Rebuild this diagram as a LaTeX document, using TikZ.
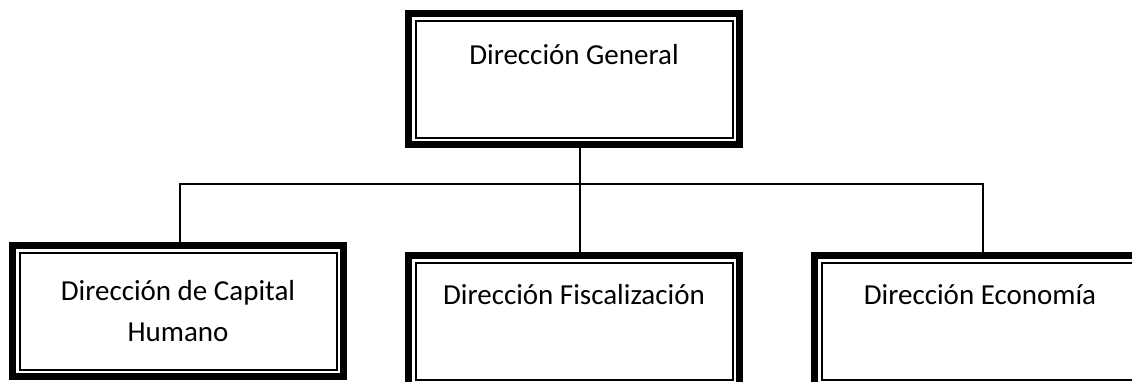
\documentclass[tikz,border=0pt]{standalone}
\usepackage{fontspec}
\setmainfont{Carlito}
\begin{document}
\begin{tikzpicture}[x=1pt,y=-1pt,
  orgbox/.style={draw, line width=7pt, minimum width=331pt, minimum height=131pt,
    inner sep=0pt, outer sep=0pt, font=\fontsize{29}{41}\selectfont, align=center},
  innerline/.style={line width=2pt},
  link/.style={line width=1.3pt}]
\useasboundingbox (0,0) rectangle (1132,381);
\clip (0,0) rectangle (1132,381);
\node[orgbox, text height=20pt, text depth=50pt] (g) at (574,79) {Dirección General};
\node[orgbox] (a) at (178,311) {Dirección de Capital\\Humano};
\node[orgbox, text height=20pt, text depth=54pt] (f) at (574,321) {Dirección Fiscalización};
\node[orgbox, text height=20pt, text depth=54pt] (e) at (980,321) {Dirección Economía};
\foreach \n in {g,a,f,e}
  \draw[innerline] ([shift={(7,7)}]\n.north west) rectangle ([shift={(-7,-7)}]\n.south east);
\coordinate (bus) at (580,184);
\draw[link] ([xshift=6pt]g.south) -- ([xshift=6pt]f.north);
\draw[link] ([xshift=2pt]a.north) |- (bus) -| ([xshift=3pt]e.north);
\end{tikzpicture}
\end{document}
